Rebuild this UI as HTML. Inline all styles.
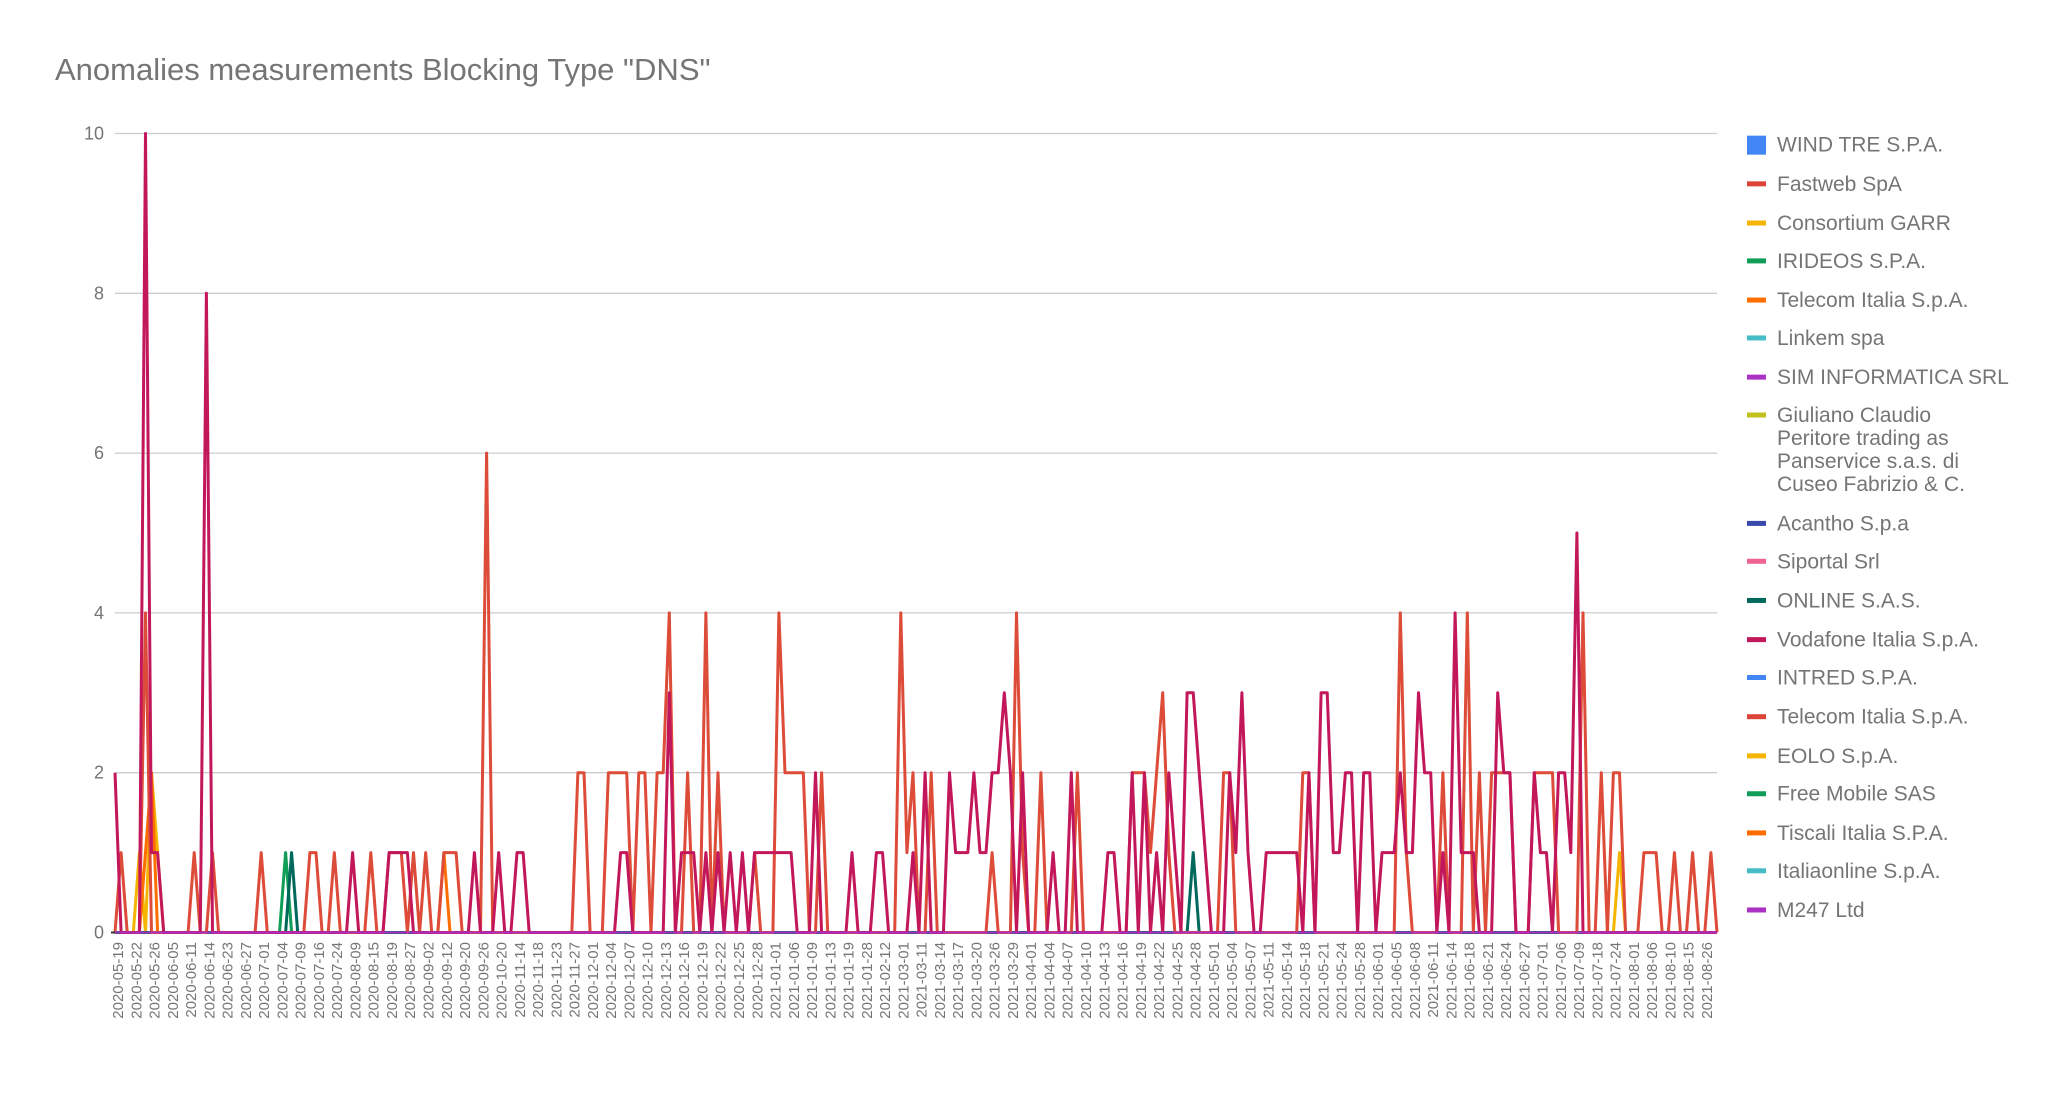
<!DOCTYPE html>
<html><head><meta charset="utf-8"><style>
html,body{margin:0;padding:0;background:#fff;}
svg{display:block;font-family:"Liberation Sans",sans-serif;}
</style></head><body>
<svg id="c" width="2048" height="1095" xmlns="http://www.w3.org/2000/svg">
<rect width="2048" height="1095" fill="#fff"/>
<text x="55" y="80" font-size="31" fill="#757575">Anomalies measurements Blocking Type "DNS"</text>
<g id="grid"></g>
<g id="series"></g>
<g id="xl" font-size="15" fill="#757575"></g>
<g id="leg" font-size="21" fill="#757575"></g>
</svg>
<script>
var S=1.306, L=115, R=1717, Y0=932.5, U=79.9, N=264, st=(R-L)/(N-1);
var ns="http://www.w3.org/2000/svg";
function el(t,a,p,txt){var e=document.createElementNS(ns,t);for(var k in a)e.setAttribute(k,a[k]);if(txt!=null)e.textContent=txt;document.getElementById(p).appendChild(e);return e;}
for(var v=0;v<=10;v+=2){var y=Y0-v*U;
 if(v>0)el('line',{x1:L,x2:R,y1:y,y2:y,stroke:'#cccccc','stroke-width':1.3},'grid');
 el('text',{x:104,y:y+6,'font-size':18,fill:'#757575','text-anchor':'end'},'grid',v);}
function idx(dx){return Math.max(0,Math.min(N-1,Math.round((dx*S-L)/st)));}
function build(spec){var a=new Array(N).fill(0);spec.forEach(function(s){if(s.length==2)a[idx(s[0])]=s[1];else{for(var i=idx(s[0]);i<=idx(s[1]);i++)a[i]=s[2];}});return a;}
function draw(a,col,w){var d='';for(var i=0;i<N;i++){d+=(i?'L':'M')+(L+i*st).toFixed(1)+','+(Y0-a[i]*U).toFixed(1);}el('path',{d:d,fill:'none',stroke:col,'stroke-width':w||3,'stroke-linejoin':'round'},'series');}
var red=[[94,1],[110,4],[150,1],[164,1],[200,1],[237,1],[241,1],[255,1],[283,1],[300,305,1],[316,1],[326,1],[340,348,1],[371,6],[444,448,2],[468,481,2],[490,495,2],[505,510,2],[514,4],[528,2],[542,4],[550,2],[578,1],[597,4],[602,615,2],[630,2],[689,4],[695,1],[700,2],[712,2],[758,1],[777,4],[785,1],[796,2],[823,2],[865,2],[870,2],[876,2],[882,1],[886,2],[892,3],[897,1],[935,940,2],[997,1003,2],[1072,4],[1078,1],[1105,2],[1123,4],[1132,2],[1140,1145,2],[1150,1155,2],[1175,1183,2],[1190,2],[1210,4],[1225,2],[1235,1240,2],[1260,1268,1],[1280,1],[1298,1],[1308,1]];
var crim=[[89,2],[111,4],[113,10],[117,1],[120,1],[158,8],[270,1],[300,306,1],[312,1],[362,1],[380,1],[395,400,1],[476,481,1],[513,3],[520,525,1],[530,1],[540,1],[548,1],[560,1],[570,1],[580,605,1],[625,2],[652,1],[670,675,1],[700,1],[708,2],[726,2],[732,740,1],[745,2],[750,755,1],[760,765,2],[768,3],[775,2],[782,2],[805,1],[818,2],[850,855,1],[868,2],[875,1],[878,2],[885,1],[893,2],[900,1],[907,915,3],[920,2],[925,1],[943,2],[948,1],[952,3],[957,1],[968,993,1],[1000,2],[1013,1017,3],[1022,1027,1],[1032,1036,2],[1045,1049,2],[1060,1068,1],[1073,2],[1078,1082,1],[1086,3],[1092,1096,2],[1106,1],[1114,4],[1120,1127,1],[1146,3],[1150,1155,2],[1173,2],[1180,1186,1],[1193,1198,2],[1202,1],[1206,5]];
var garr=[[107,1],[116,2],[120,1],[1240,1]];
var tel=[[110,1],[114,2],[118,2],[338,1]];
draw(new Array(N).fill(0),'#ab30c4',3);
draw(build(garr),'#f4b400',3);
draw(build(tel),'#ff6d00',3);
draw(build([[218,1]]),'#0f9d58',3);
draw(build([[224,1],[915,1]]),'#00695c',3);
draw(build(red),'#dd4b39',3);
draw(build(crim),'#c2185b',3);
el('line',{x1:L,x2:R,y1:Y0,y2:Y0,stroke:'#ab30c4','stroke-width':2},'series');
el('line',{x1:L-4,x2:L,y1:Y0,y2:Y0,stroke:'#333','stroke-width':2},'series');
var labs="2020-05-19 2020-05-22 2020-05-26 2020-06-05 2020-06-11 2020-06-14 2020-06-23 2020-06-27 2020-07-01 2020-07-04 2020-07-09 2020-07-16 2020-07-24 2020-08-09 2020-08-15 2020-08-19 2020-08-27 2020-09-02 2020-09-12 2020-09-20 2020-09-26 2020-10-20 2020-11-14 2020-11-18 2020-11-23 2020-11-27 2020-12-01 2020-12-04 2020-12-07 2020-12-10 2020-12-13 2020-12-16 2020-12-19 2020-12-22 2020-12-25 2020-12-28 2021-01-01 2021-01-06 2021-01-09 2021-01-13 2021-01-19 2021-01-28 2021-02-12 2021-03-01 2021-03-11 2021-03-14 2021-03-17 2021-03-20 2021-03-26 2021-03-29 2021-04-01 2021-04-04 2021-04-07 2021-04-10 2021-04-13 2021-04-16 2021-04-19 2021-04-22 2021-04-25 2021-04-28 2021-05-01 2021-05-04 2021-05-07 2021-05-11 2021-05-14 2021-05-18 2021-05-21 2021-05-24 2021-05-28 2021-06-01 2021-06-05 2021-06-08 2021-06-11 2021-06-14 2021-06-18 2021-06-21 2021-06-24 2021-06-27 2021-07-01 2021-07-06 2021-07-09 2021-07-18 2021-07-24 2021-08-01 2021-08-06 2021-08-10 2021-08-15 2021-08-26".split(' ');
var x0=118,x1=1707,ls=(x1-x0)/(labs.length-1);
labs.forEach(function(t,i){var x=x0+i*ls+5;el('text',{x:0,y:0,'text-anchor':'end',transform:'translate('+x.toFixed(1)+',942) rotate(-90)'},'xl',t);});
var items=[["WIND TRE S.P.A.","#4285f4",110,1],["Fastweb SpA","#db4437",140],["Consortium GARR","#f4b400",170],["IRIDEOS S.P.A.","#0f9d58",199],["Telecom Italia S.p.A.","#ff6d00",229],["Linkem spa","#46bdc6",258],["SIM INFORMATICA SRL","#ab30c4",288],["Giuliano Claudio|Peritore trading as|Panservice s.a.s. di|Cuseo Fabrizio & C.","#c2c01c",317],["Acantho S.p.a","#3949ab",400],["Siportal Srl","#f06292",429],["ONLINE S.A.S.","#00695c",459],["Vodafone Italia S.p.A.","#c2185b",489],["INTRED S.P.A.","#4285f4",518],["Telecom Italia S.p.A.","#db4437",548],["EOLO S.p.A.","#f4b400",578],["Free Mobile SAS","#0f9d58",607],["Tiscali Italia S.P.A.","#ff6d00",637],["Italiaonline S.p.A.","#46bdc6",666],["M247 Ltd","#ab30c4",696]];
items.forEach(function(it){var yc=it[2]*S+1;
 if(it[3])el('rect',{x:1747,y:yc-9,width:19,height:19,fill:it[1]},'leg');
 else el('rect',{x:1747,y:yc-2.5,width:19,height:5,fill:it[1]},'leg');
 it[0].split('|').forEach(function(t,j){el('text',{x:1777,y:yc+7+j*23},'leg',t);});});
</script>
</body></html>
